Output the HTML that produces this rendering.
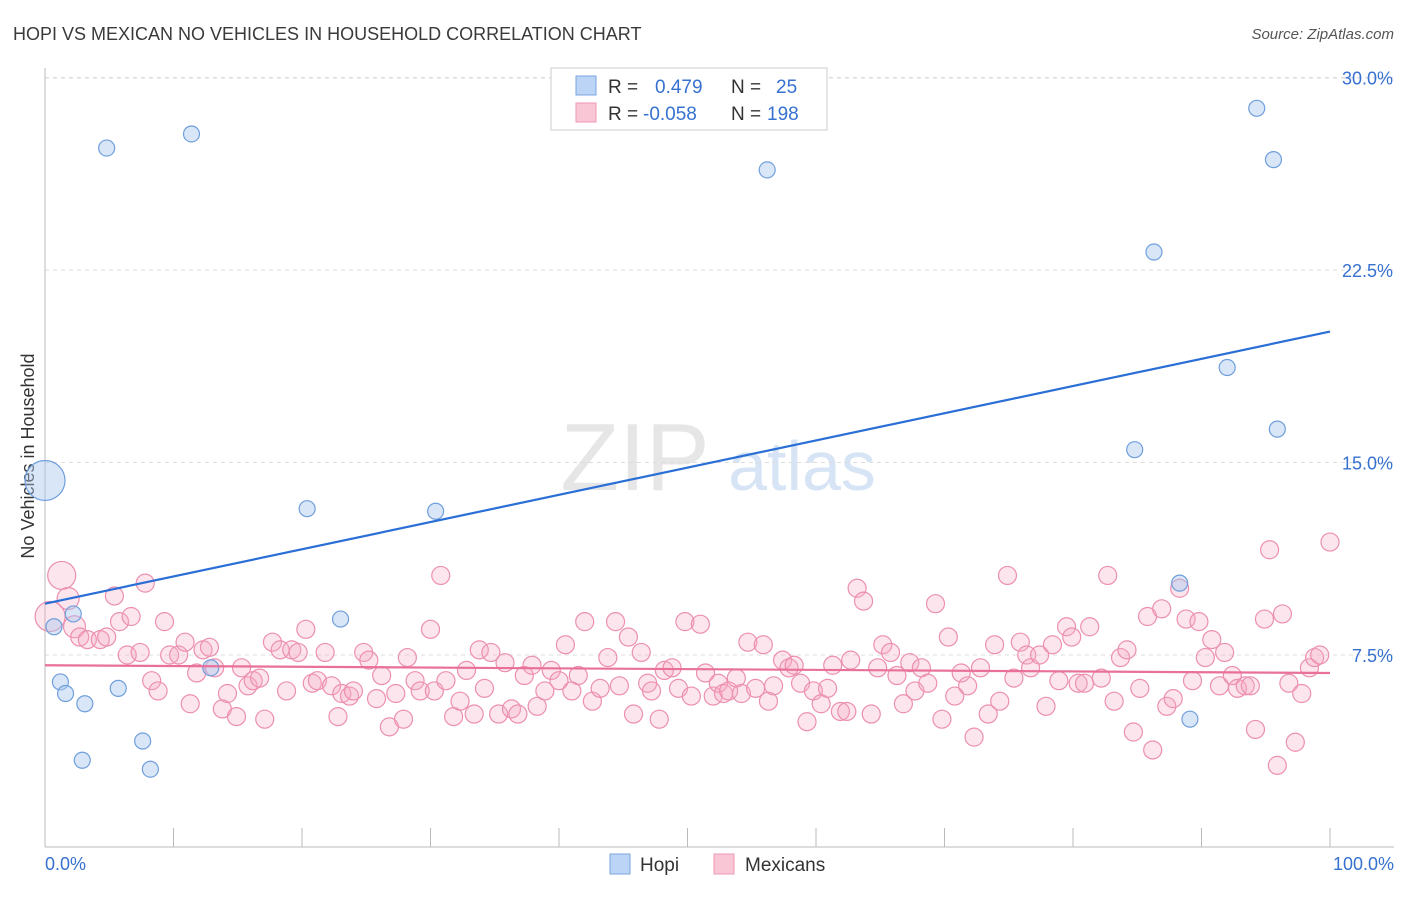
<!DOCTYPE html>
<html><head><meta charset="utf-8">
<style>
body{margin:0;background:#fff;font-family:"Liberation Sans",sans-serif;}
svg text{font-family:"Liberation Sans",sans-serif;}
</style></head>
<body>
<svg id="chart" width="1406" height="892" viewBox="0 0 1406 892" xmlns="http://www.w3.org/2000/svg">
<text x="13" y="40" font-size="18" fill="#3a3a3a">HOPI VS MEXICAN NO VEHICLES IN HOUSEHOLD CORRELATION CHART</text>
<text x="1394" y="39" font-size="15" fill="#555" text-anchor="end" font-style="italic">Source: ZipAtlas.com</text>
<text transform="translate(34,456) rotate(-90)" font-size="18" fill="#333" text-anchor="middle">No Vehicles in Household</text>
<g>
<text x="635" y="490" font-size="96" fill="#e6e6e6" font-family="Liberation Serif" text-anchor="middle">ZIP</text>
<text x="802" y="490" font-size="70" fill="#d6e4f5" text-anchor="middle">atlas</text>
</g>
<g id="grid"></g>
<g id="axes"></g>
<g id="pink"></g>
<g id="blue"></g>
<g id="lines"></g>
<g>
<rect x="551" y="68" width="276" height="62" fill="#fff" stroke="#ccc"/>
<rect x="576" y="76" width="20" height="19" fill="#bcd4f5" stroke="#7aa6e0"/>
<rect x="576" y="103" width="20" height="19" fill="#f9c6d6" stroke="#ee98b4"/>
<text x="608" y="93" font-size="19" fill="#333">R = </text><text x="655" y="93" font-size="19" fill="#3671d0">0.479</text>
<text x="731" y="93" font-size="19" fill="#333">N = </text><text x="776" y="93" font-size="19" fill="#3671d0">25</text>
<text x="608" y="120" font-size="19" fill="#333">R = </text><text x="643" y="120" font-size="19" fill="#3671d0">-0.058</text>
<text x="731" y="120" font-size="19" fill="#333">N = </text><text x="767" y="120" font-size="19" fill="#3671d0">198</text>
</g>
<g>
<rect x="610" y="854" width="20" height="20" fill="#bcd4f5" stroke="#7aa6e0"/>
<text x="640" y="871" font-size="19" fill="#333">Hopi</text>
<rect x="714" y="854" width="20" height="20" fill="#f9c6d6" stroke="#ee98b4"/>
<text x="745" y="871" font-size="19" fill="#333">Mexicans</text>
</g>
</svg>
<script>
const yTicks=[7.5,15.0,22.5,30.0];
const yTickLabels=["7.5%","15.0%","22.5%","30.0%"];
const xTickLabels=["0.0%","100.0%"];
const hopiX=[0,4.8,11.4,56.2,94.3,95.6,86.3,92.0,95.9,84.8,20.4,30.4,23.0,0.7,2.2,88.3,12.9,1.2,1.6,3.1,5.7,89.1,7.6,2.9,8.2];
const hopiY=[14.3,27.25,27.8,26.4,28.8,26.8,23.2,18.7,16.3,15.5,13.2,13.1,8.9,8.6,9.1,10.3,7.0,6.45,6.0,5.6,6.2,5.0,4.15,3.4,3.05];
const mexX=[0.4,1.3,1.8,2.3,2.7,3.3,4.3,4.8,5.4,5.8,6.4,6.7,7.4,7.8,8.3,8.8,9.3,9.7,10.4,10.9,11.3,11.8,12.3,12.8,13.2,13.8,14.2,14.9,15.3,15.8,16.2,16.7,17.1,17.7,18.3,18.8,19.2,19.7,20.3,20.8,21.2,21.8,22.3,22.8,23.1,23.7,24.0,24.8,25.2,25.8,26.2,26.8,27.3,27.9,28.2,28.8,29.2,30.0,30.3,30.8,31.2,31.8,32.3,32.8,33.4,33.8,34.2,34.7,35.3,35.8,36.3,36.8,37.3,37.9,38.3,38.9,39.4,40.0,40.5,41.0,41.5,42.0,42.6,43.2,43.8,44.4,44.7,45.4,45.8,46.4,46.9,47.2,47.8,48.2,48.8,49.3,49.8,50.3,51.0,51.4,52.0,52.4,52.8,53.2,53.8,54.2,54.7,55.3,55.9,56.3,56.7,57.4,57.9,58.3,58.8,59.3,59.8,60.4,60.9,61.3,61.9,62.4,62.7,63.2,63.7,64.3,64.8,65.2,65.8,66.3,66.8,67.3,67.7,68.2,68.7,69.3,69.8,70.3,70.8,71.3,71.8,72.3,72.8,73.4,73.9,74.3,74.9,75.4,75.9,76.4,76.7,77.4,77.9,78.4,78.9,79.5,79.9,80.4,80.9,81.3,82.2,82.7,83.2,83.7,84.2,84.7,85.2,85.8,86.2,86.9,87.3,87.8,88.3,88.8,89.3,89.8,90.3,90.8,91.4,91.8,92.4,92.8,93.4,93.8,94.2,94.9,95.3,95.9,96.3,96.8,97.3,97.8,98.4,98.8,99.2,100];
const mexY=[9.0,10.6,9.7,8.6,8.2,8.1,8.1,8.2,9.8,8.8,7.5,9.0,7.6,10.3,6.5,6.1,8.8,7.5,7.5,8.0,5.6,6.8,7.7,7.8,7.0,5.4,6.0,5.1,7.0,6.3,6.5,6.6,5.0,8.0,7.7,6.1,7.7,7.6,8.5,6.4,6.5,7.6,6.3,5.1,6.0,5.9,6.1,7.6,7.3,5.8,6.7,4.7,6.0,5.0,7.4,6.5,6.1,8.5,6.1,10.6,6.5,5.1,5.7,6.9,5.2,7.7,6.2,7.6,5.2,7.2,5.4,5.2,6.7,7.1,5.5,6.1,6.9,6.5,7.9,6.1,6.7,8.8,5.7,6.2,7.4,8.8,6.3,8.2,5.2,7.6,6.4,6.1,5.0,6.9,7.0,6.2,8.8,5.9,8.7,6.8,5.9,6.4,6.0,6.1,6.6,6.0,8.0,6.2,7.9,5.7,6.3,7.3,7.0,7.1,6.4,4.9,6.1,5.6,6.2,7.1,5.3,5.3,7.3,10.1,9.6,5.2,7.0,7.9,7.6,6.7,5.6,7.2,6.1,7.0,6.4,9.5,5.0,8.2,5.9,6.8,6.3,4.3,7.0,5.2,7.9,5.7,10.6,6.6,8.0,7.5,7.0,7.5,5.5,7.9,6.5,8.6,8.2,6.4,6.4,8.6,6.6,10.6,5.7,7.4,7.7,4.5,6.2,9.0,3.8,9.3,5.5,5.8,10.1,8.9,6.5,8.8,7.4,8.1,6.3,7.6,6.7,6.2,6.3,6.3,4.6,8.9,11.6,3.2,9.1,6.4,4.1,6.0,7.0,7.4,7.5,11.9];
const hopiTrend=[9.5,20.1];
const mexTrend=[7.1,6.8];
const NS="http://www.w3.org/2000/svg";
const X0=45,X1=1330,Y0=847.5,PPY=192.5/7.5;
function sx(v){return X0+(X1-X0)*v/100;}
function sy(v){return Y0-v*PPY;}
function mk(tag,attrs,parent){const e=document.createElementNS(NS,tag);for(const k in attrs)e.setAttribute(k,attrs[k]);parent.appendChild(e);return e;}
const grid=document.getElementById('grid'),axes=document.getElementById('axes');
yTicks.forEach((t,i)=>{
  const l=mk('line',{x1:X0,x2:1394,y1:sy(t),y2:sy(t),stroke:'#ddd','stroke-dasharray':'4,4'},grid);
  
  
  const tx=mk('text',{x:1393,y:sy(t)+7,'font-size':18,fill:'#3671d0','text-anchor':'end'},axes);
  tx.textContent=yTickLabels[i];
  
  
});
const topLine=mk('line',{x1:X0,x2:1394,y1:78,y2:78,stroke:'#ddd','stroke-dasharray':'4,4'},grid);


const ya=mk('line',{x1:X0,x2:X0,y1:68,y2:847,stroke:'#bbb'},axes);


const xa=mk('line',{x1:X0,x2:1394,y1:847,y2:847,stroke:'#bbb'},axes);


for(let i=0;i<=10;i++){
  const t=mk('line',{x1:sx(i*10),x2:sx(i*10),y1:828,y2:847,stroke:'#bbb'},axes);
  
  
}
[[0,'start',X0],[1,'end',1394]].forEach(([i,a,x])=>{
  const tx=mk('text',{x:x,y:870,'font-size':18,fill:'#3671d0','text-anchor':a},axes);
  tx.textContent=xTickLabels[i];
  
  
});
const pink=document.getElementById('pink');
mexX.forEach((x,i)=>{
  const r=i===0?15:(i===1?14:(i<4?11:9));
  const c=mk('circle',{cx:sx(x),cy:sy(mexY[i]),r:r,fill:'rgba(246,170,196,0.3)',stroke:'#ec8fb0','stroke-width':1.2},pink);
  
  
});
const blue=document.getElementById('blue');
hopiX.forEach((x,i)=>{
  const r=i===0?20:8;
  const c=mk('circle',{cx:sx(x),cy:sy(hopiY[i]),r:r,fill:'rgba(170,200,240,0.45)',stroke:'#6f9fdc','stroke-width':1.2},blue);
  
  
});
const lines=document.getElementById('lines');
const bl=mk('line',{x1:sx(0),y1:sy(hopiTrend[0]),x2:sx(100),y2:sy(hopiTrend[1]),stroke:'#2a6fd6','stroke-width':2.2},lines);


const pl=mk('line',{x1:sx(0),y1:sy(mexTrend[0]),x2:sx(100),y2:sy(mexTrend[1]),stroke:'#e8709a','stroke-width':2.2},lines);


</script>
</body></html>
